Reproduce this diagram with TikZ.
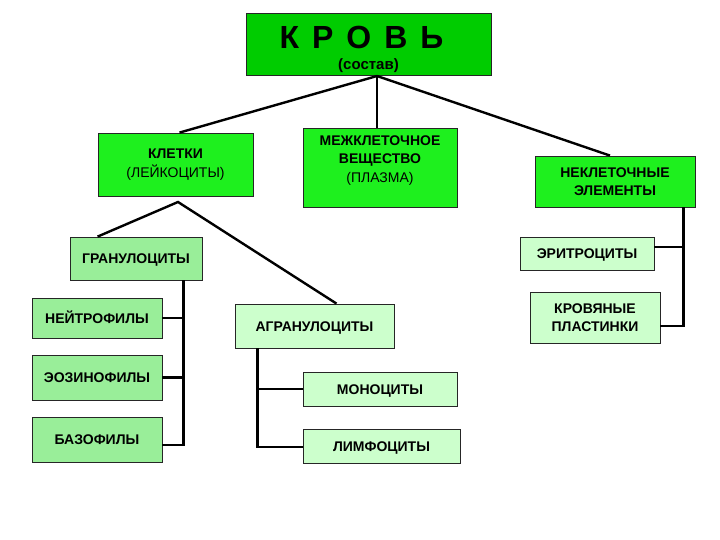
\documentclass[tikz,border=0pt]{standalone}
\usepackage{fontspec}
\setmainfont{Liberation Sans}
\usetikzlibrary{calc}
\definecolor{BloodTop}{HTML}{00CC00}
\definecolor{BloodMain}{HTML}{1EF01E}
\definecolor{BloodMid}{HTML}{99EE99}
\definecolor{BloodPale}{HTML}{CCFFCC}

\begin{document}
\begin{tikzpicture}[x=1pt, y=-1pt,
  box/.style={rectangle, draw=black!85, line width=0.8pt, align=center,
              inner sep=2pt, font=\fontsize{14}{18.5}\selectfont\bfseries},
  oneline/.style={text height=10pt, text depth=0pt},
  topbox/.style={box, fill=BloodTop, minimum width=245pt, minimum height=61pt},
  mainbox/.style={box, fill=BloodMain},
  groupbox/.style={box, fill=BloodMid},
  leafbox/.style={box, fill=BloodPale},
  link/.style={line width=2.4pt, draw=black}
]
  \useasboundingbox (0,0) rectangle (720,540);

  \node[topbox, text depth=4pt] (krov) at (368.5,44.5)
        {\fontsize{32}{34}\selectfont\spaceskip=13pt\rule{0pt}{33pt}К Р О В Ь\kern14pt\\[2pt]
         \fontsize{15}{16}\selectfont(состав)};

  \node[mainbox, minimum width=155pt, minimum height=63pt] (kletki) at (175.5,164.5)
        {КЛЕТКИ\\{\mdseries(ЛЕЙКОЦИТЫ)}};
  \node[mainbox, minimum width=154pt, minimum height=79pt, text depth=17pt] (plazma) at (380,167.5)
        {МЕЖКЛЕТОЧНОЕ\\ВЕЩЕСТВО\\{\mdseries(ПЛАЗМА)}};
  \node[mainbox, minimum width=160pt, minimum height=51pt] (nekl) at (615,181.5)
        {НЕКЛЕТОЧНЫЕ\\ЭЛЕМЕНТЫ};

  \node[leafbox, oneline, minimum width=134pt, minimum height=33pt] (eritr) at (587,253.5) {ЭРИТРОЦИТЫ};
  \node[leafbox, minimum width=130pt, minimum height=51pt] (plast) at (595,317.5)
        {КРОВЯНЫЕ\\ПЛАСТИНКИ};

  \node[groupbox, oneline, minimum width=132pt, minimum height=43pt] (granul) at (136,258.5) {ГРАНУЛОЦИТЫ};
  \node[groupbox, oneline, minimum width=130pt, minimum height=40pt] (neutr) at (97,318) {НЕЙТРОФИЛЫ};
  \node[groupbox, oneline, minimum width=130pt, minimum height=45pt] (eozin) at (97,377.5) {ЭОЗИНОФИЛЫ};
  \node[groupbox, oneline, minimum width=130pt, minimum height=45pt] (bazof) at (97,439.5) {БАЗОФИЛЫ};

  \node[leafbox, oneline, minimum width=159pt, minimum height=44pt] (agran) at (314.5,326) {АГРАНУЛОЦИТЫ};
  \node[leafbox, oneline, minimum width=154pt, minimum height=34pt] (mono) at (380,389) {МОНОЦИТЫ};
  \node[leafbox, oneline, minimum width=157pt, minimum height=34pt] (limf) at (381.5,446) {ЛИМФОЦИТЫ};

  \coordinate (krovJ) at (377,76);
  \draw[link] (krovJ) -- ([xshift=4pt]kletki.north);
  \draw[link] (krovJ) -- (krovJ |- plazma.north);
  \draw[link] (krovJ) -- ([xshift=-5pt]nekl.north);

  \coordinate (kletkiJ) at (178,202);
  \draw[link] ([xshift=28pt]granul.north west) -- (kletkiJ) -- ([xshift=22pt]agran.north);

  \coordinate (granX) at ([xshift=-19pt]granul.south east);
  \draw[link] (granX) |- ([yshift=-5.5pt]bazof.east);
  \foreach \cell in {neutr,eozin}
    \draw[link] (\cell.east) -- (\cell.east -| granX);

  \coordinate (agranX) at ([xshift=23pt]agran.south west);
  \draw[link] (agranX) |- ([yshift=-1pt]limf.west);
  \draw[link] (mono.west) -- (mono.west -| agranX);

  \coordinate (neklX) at ([xshift=-12pt]nekl.south east);
  \draw[link] (neklX) |- ([yshift=-8.5pt]plast.east);
  \draw[link] ([yshift=6.5pt]eritr.east) -- ([yshift=6.5pt]eritr.east -| neklX);
\end{tikzpicture}
\end{document}
